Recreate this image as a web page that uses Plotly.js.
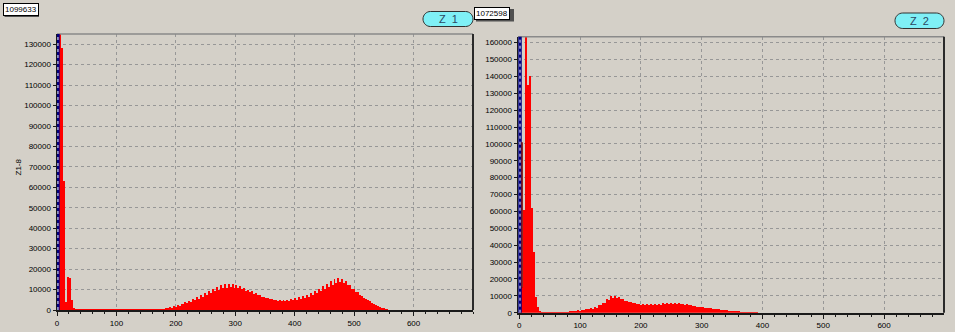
<!DOCTYPE html>
<html>
<head>
<meta charset="utf-8">
<script src="https://cdn.plot.ly/plotly-3.0.1.min.js"></script>
<style>
html,body{margin:0;padding:0;background:#d4d0c8;}
#chart{width:955px;height:332px;}
</style>
</head>
<body>
<div id="chart"></div>
<script>
// ---------- DATA ----------
const z1Total = "1099633";
const z2Total = "1072598";
const z1Name = "Z  1";
const z2Name = "Z  2";
const z1AxisTitle = "Z1-8";

// Z1 histogram counts per channel (channel width 3.3 units, first centre 1.65)
const z1Counts = [
  4000, 140000, 128000, 63000, 4000, 16000, 15500, 5000, 1200,
  600, 500, 450, 420, 400, 380, 400, 380, 360, 350,
  360, 340, 350, 330, 340, 320, 330, 320, 310, 320,
  300, 320, 310, 300, 310, 320, 300, 310, 320, 330,
  320, 340, 330, 350, 340, 360, 370, 380, 390, 400,
  420, 450,
  500, 450, 700, 650, 1000, 900, 1300, 1200, 1800, 1700,
  2400, 2200, 3100, 2800, 3900, 3500, 4600, 4100, 5400, 4800,
  6400, 5600, 7300, 6500, 8200, 7300, 9300, 8200, 10300, 9100,
  11100, 9800, 12000, 10600, 12600, 11000, 12800, 11200, 12600, 11000,
  12300, 10700, 11700, 10100, 10900, 9400, 10000, 8600, 9100, 7900,
  8100, 7100, 7200, 6400, 6400, 5700, 5800, 5200, 5400, 4800,
  5100, 4500, 5000, 4400, 4900, 4400, 5100, 4500, 5300, 4700,
  5700, 5000, 6200, 5500, 6800, 6000, 7500, 6600, 8300, 7400,
  9300, 8200, 10400, 9200, 11600, 10300, 12800, 11300, 14000, 12400,
  15000, 13200, 15500, 13600, 15200, 13300, 14200, 12000, 12000, 10400,
  10300, 8800, 8600, 7300, 7000, 5900, 5600, 4700, 4300, 3500,
  3100, 2500, 2100, 1600, 1200, 800, 600, 300, 150, 50
];

// Z2 histogram counts per channel
const z2Counts = [
  101000, 15000, 61000, 170000, 135000, 140000, 62000, 36000, 9500, 3500, 1000,
  500, 400, 400, 350, 350, 350, 300, 350, 350, 400, 400, 500,
  600, 550, 900, 800, 1100, 1000, 1500, 1300, 1800, 1600,
  2200, 1900, 2700, 2400, 3300, 2900, 4600, 4300, 6000, 5800,
  8000, 7600, 9800, 8800, 10000, 8700, 9300, 7900, 8200, 7000,
  7200, 6200, 6400, 5600, 5800, 5100, 5400, 4800, 5200, 4600,
  5100, 4500, 5100, 4600, 5200, 4700, 5400, 4800, 5600, 5000,
  5800, 5100, 5900, 5200, 5800, 5100, 5600, 5000, 5300, 4700,
  4900, 4300, 4500, 3900, 4000, 3500, 3600, 3100, 3200, 2800,
  2800, 2500, 2500, 2200, 2200, 1900, 1900, 1600, 1600, 1400,
  1400, 1200, 1200, 1000, 1000, 800, 800, 650, 650, 500,
  500, 400, 400, 300, 250, 150, 100
];

const xTickVals = [0, 100, 200, 300, 400, 500, 600];
const z1YTicks = [0,10000,20000,30000,40000,50000,60000,70000,80000,90000,100000,110000,120000,130000];
const z2YTicks = [0,10000,20000,30000,40000,50000,60000,70000,80000,90000,100000,110000,120000,130000,140000,150000,160000];

// ---------- STYLE / LAYOUT ----------
const W = 955, H = 332;
const BG = '#d4d0c8';
const CH_W = 3.3, CH_X0 = 1.65;
const FONT = 'Liberation Sans, Arial, sans-serif';

function px(x){ return x / W; }
function py(y){ return 1 - y / H; }

function pillPath(x0, y0, x1, y1){
  const r = (y1 - y0) / 2, ym = (y0 + y1) / 2, k = 0.5523 * r;
  const P = (x, y) => px(x).toFixed(5) + ',' + py(y).toFixed(5);
  return 'M' + P(x0 + r, y0) + ' L' + P(x1 - r, y0) +
    ' C' + P(x1 - r + k, y0) + ' ' + P(x1, ym - k) + ' ' + P(x1, ym) +
    ' C' + P(x1, ym + k) + ' ' + P(x1 - r + k, y1) + ' ' + P(x1 - r, y1) +
    ' L' + P(x0 + r, y1) +
    ' C' + P(x0 + r - k, y1) + ' ' + P(x0, ym + k) + ' ' + P(x0, ym) +
    ' C' + P(x0, ym - k) + ' ' + P(x0 + r - k, y0) + ' ' + P(x0 + r, y0) + ' Z';
}

const traces = [
  {type:'bar', x0:CH_X0, dx:CH_W, y:z1Counts, xaxis:'x', yaxis:'y',
   marker:{color:'#ff0000', line:{width:0}}, hoverinfo:'skip'},
  {type:'bar', x0:CH_X0, dx:CH_W, y:z2Counts, xaxis:'x2', yaxis:'y2',
   marker:{color:'#ff0000', line:{width:0}}, hoverinfo:'skip'}
];

function xAxis(domain, range){
  return {
    domain: domain, range: range, tickvals: xTickVals, ticktext: xTickVals.map(String),
    showgrid: true, gridcolor: '#979797', griddash: '3px,3px', gridwidth: 1,
    zeroline: false, showline: true, linecolor: '#1a1a1a', linewidth: 2,
    ticks: 'outside', ticklen: 4, tickcolor: '#1a1a1a', tickwidth: 1,
    minor: {dtick: 20, tick0: 0, ticks: 'outside', ticklen: 2, tickcolor: '#1a1a1a', showgrid: false},
    tickfont: {family: FONT, size: 8, color: '#000'}, fixedrange: true
  };
}
function yAxis(domain, range, ticks, anchor){
  return {
    domain: domain, range: range, anchor: anchor, tickvals: ticks, ticktext: ticks.map(String),
    showgrid: true, gridcolor: '#979797', griddash: '3px,3px', gridwidth: 1,
    zeroline: false, showline: true, linecolor: '#1a1a1a', linewidth: 1.5,
    ticks: 'outside', ticklen: 3, tickcolor: '#1a1a1a', tickwidth: 1,
    tickfont: {family: FONT, size: 8, color: '#000'}, fixedrange: true
  };
}

const shapes = [];
// plot frames: gray top, dark right
[['x','y'],['x2','y2']].forEach(([xa, ya]) => {
  shapes.push({type:'line', xref:xa+' domain', yref:ya+' domain', x0:0, x1:1, y0:1, y1:1,
               line:{color:'#8a8a8a', width:1.5}});
  shapes.push({type:'line', xref:xa+' domain', yref:ya+' domain', x0:1, x1:1, y0:0, y1:1,
               line:{color:'#2a2a2a', width:2}});
});
// cursor lines (navy band with white dots)
[['x','y',1.6],['x2','y2',1.2]].forEach(([xa, ya, xv]) => {
  shapes.push({type:'line', xref:xa, yref:ya+' domain', x0:xv, x1:xv, y0:0, y1:1,
               line:{color:'#000080', width:3.5}});
  shapes.push({type:'line', xref:xa, yref:ya+' domain', x0:xv, x1:xv, y0:0, y1:1,
               line:{color:'#ffffff', width:1, dash:'dot'}});
});
// dark red marker line in Z2 channel bar
shapes.push({type:'line', xref:'x2', yref:'y2', x0:4.6, x1:4.6, y0:15000, y1:101000,
             line:{color:'#7a0000', width:1.5}});
// pill buttons
shapes.push({type:'path', xref:'paper', yref:'paper', path:pillPath(423, 11.5, 473, 26.5),
             fillcolor:'#7ff0f6', line:{color:'#303030', width:1}});
shapes.push({type:'path', xref:'paper', yref:'paper', path:pillPath(895, 13, 944, 28.5),
             fillcolor:'#7ff0f6', line:{color:'#303030', width:1}});
// box shadows
shapes.push({type:'rect', xref:'paper', yref:'paper', x0:px(4.5), x1:px(39), y0:py(17), y1:py(5),
             fillcolor:'#505050', line:{width:0}});
shapes.push({type:'rect', xref:'paper', yref:'paper', x0:px(476), x1:px(514), y0:py(21.5), y1:py(9),
             fillcolor:'#505050', line:{width:0}});

const annotations = [
  {xref:'paper', yref:'paper', x:px(2.5), y:py(3), xanchor:'left', yanchor:'top', showarrow:false,
   text:z1Total, font:{family:FONT, size:8, color:'#000'}, bgcolor:'#ffffff',
   bordercolor:'#000', borderwidth:1, borderpad:1},
  {xref:'paper', yref:'paper', x:px(474), y:py(7), xanchor:'left', yanchor:'top', showarrow:false,
   text:z2Total, font:{family:FONT, size:8, color:'#000'}, bgcolor:'#ffffff',
   bordercolor:'#000', borderwidth:1, borderpad:1},
  {xref:'paper', yref:'paper', x:px(448), y:py(19), xanchor:'center', yanchor:'middle', showarrow:false,
   text:z1Name, font:{family:FONT, size:11, color:'#2b4862'}},
  {xref:'paper', yref:'paper', x:px(919.5), y:py(21), xanchor:'center', yanchor:'middle', showarrow:false,
   text:z2Name, font:{family:FONT, size:11, color:'#2b4862'}},
  {xref:'paper', yref:'paper', x:px(17.5), y:py(167), xanchor:'center', yanchor:'middle', showarrow:false,
   text:z1AxisTitle, textangle:-90, font:{family:FONT, size:8, color:'#000'}}
];

const layout = {
  width: W, height: H,
  margin: {l:0, r:0, t:0, b:0, pad:0},
  paper_bgcolor: BG, plot_bgcolor: BG,
  showlegend: false, bargap: 0, barmode: 'overlay',
  xaxis: xAxis([px(57), px(473)], [0, 700]),
  yaxis: yAxis([1 - 310/H, 1 - 34/H], [0, 135000], z1YTicks, 'x'),
  xaxis2: Object.assign(xAxis([px(518), px(944)], [-2.1, 698.6]), {anchor:'y2'}),
  yaxis2: yAxis([1 - 312.7/H, 1 - 36.7/H], [0, 163500], z2YTicks, 'x2'),
  shapes: shapes, annotations: annotations
};
layout.xaxis.anchor = 'y';

Plotly.newPlot('chart', traces, layout, {staticPlot:true, displayModeBar:false});
</script>
</body>
</html>
